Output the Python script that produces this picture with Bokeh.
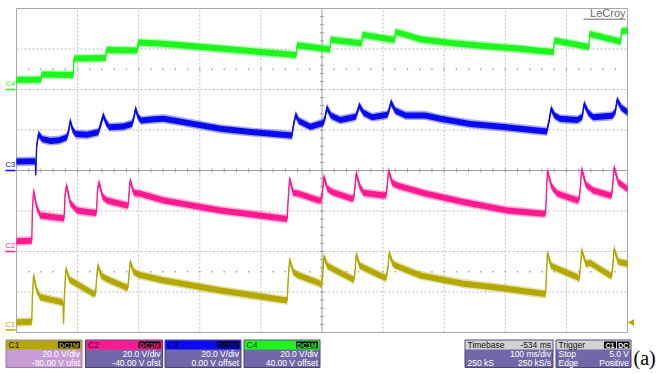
import numpy as np
from bokeh.plotting import figure
from bokeh.models import Range1d
from bokeh.core.properties import value
from bokeh.embed import file_html
from bokeh.resources import INLINE

# ---------------- acquisition data (time in ms, level in V) ----------------
t1 = [0, 25, 26, 28, 33, 39, 75, 76, 77, 78, 79.5, 81, 87, 99, 126, 129.5, 131, 133, 139, 148,
      180, 182.5, 184, 186, 192, 200, 241, 334, 443, 444.5, 447, 453, 459, 495, 499, 501, 503, 509, 517, 549,
      552, 554, 556, 562, 566, 601, 605, 608, 610, 616, 620, 661, 732, 803, 863, 866, 867.5, 869, 875, 879,
      918, 921, 923, 925, 932, 939, 972, 974, 976, 978, 985, 989, 1000]
v1 = [5.1, 5.3, 18, 28.2, 21, 17.4, 15.0, 14.5, 4.5, 15, 25, 31.5, 26, 23.9, 19.1, 19.5, 26, 33.1, 28, 26.4,
      22.2, 22.5, 28, 34.7, 30, 28.5, 25.7, 20.7, 15.8, 25, 35.9, 30, 28.5, 24.4, 23.5, 28, 37.5, 33, 31.5, 26.5,
      26, 30, 38.5, 33, 32.3, 27.3, 27, 32, 39.2, 34, 33.1, 28.2, 24.1, 21.6, 19.1, 19, 30, 39.2, 33, 32.3,
      27.3, 26.5, 32, 40.8, 34, 34.3, 28.2, 28, 33, 41.3, 35, 34.7, 33.9]

t2 = [0, 25, 26, 28, 33, 39, 76, 78, 79.5, 82, 88, 99, 129, 131, 132.5, 135, 141, 148, 181, 183,
      184.5, 186, 192, 203, 241, 334, 443, 444.5, 447, 453, 462, 495, 499, 501, 503, 509, 517, 549, 552, 554,
      556, 562, 568, 601, 605, 607, 609, 615, 623, 669, 732, 803, 863, 866, 867.5, 869, 876, 885, 918, 921,
      923, 925, 932, 944, 972, 974, 976, 978, 985, 1000]
v2 = [5.1, 5.3, 20, 30.1, 22, 17.8, 16.4, 16.6, 28, 32.6, 24, 20.3, 19.0, 19.5, 30, 34.2, 27, 25.2, 22.7, 23,
      30, 35.1, 29, 28.5, 25.2, 20.3, 16.1, 25, 35.9, 29, 28.5, 25.2, 25.5, 30, 37, 31, 29.3, 26.1, 26.5, 32,
      38.7, 32, 29.0, 27.7, 28, 33, 40, 34, 32.6, 28.6, 24.4, 20.3, 18.6, 19, 30, 39.7, 32, 28.6, 25.2, 26,
      32, 40.8, 33, 30.1, 27.7, 28, 33, 41.6, 34.2, 30.9]

t3 = [0, 31, 31.5, 33, 36, 42, 56, 70, 82, 85, 88, 92, 97, 115, 134, 138, 142, 147, 152, 175,
      189, 192, 195, 199, 204, 225, 241, 260, 334, 388, 451, 453, 457, 462, 481, 502, 505, 508, 515, 530,
      555, 558, 561, 568, 582, 607, 610, 613, 620, 637, 669, 694, 743, 803, 868, 872, 875, 881, 890, 918,
      926, 929, 936, 944, 975, 980, 983, 990, 1000]
v3 = [4.4, 4.6, -2.3, 12, 18.0, 15.5, 14.6, 15.0, 16.3, 19, 24.5, 20, 18.0, 17.6, 18.9, 23, 27.2, 23.5, 21.4, 21.7,
      23.0, 26, 30.5, 26.5, 24.7, 25.3, 25.6, 24.6, 20.6, 18.9, 17.3, 22, 27.5, 24.5, 21.6, 23.5, 26, 31, 27, 25,
      26.5, 29, 32.1, 28.5, 26.3, 27.5, 30, 33.7, 29.5, 27.2, 27.2, 25.5, 23.0, 21.3, 19.3, 25, 30.5, 27, 25.5, 25,
      26.5, 32.9, 28.5, 26.3, 27.0, 29, 34.9, 31.0, 28.8]

t4 = [0, 40, 41, 93, 94, 146, 147, 198, 199, 240, 334, 400, 458, 459, 513, 514, 565, 566, 619, 620,
      640, 661, 715, 771, 825, 879, 880, 937, 938, 989, 990, 1000]
v4 = [4.8, 4.8, 7.4, 7.2, 15.3, 15.5, 19.5, 19.2, 23.2, 22.6, 20.2, 18.5, 17.0, 21.8, 19.8, 24.6, 22.8, 27.0, 24.4, 28.4,
      26.8, 24.8, 22.9, 21.4, 20.1, 18.4, 24.2, 21.0, 27.4, 23.6, 28.8, 29.0]

# ---------------- channel settings ----------------
channel_names = ["C1", "C2", "C3", "C4"]
volts_per_div = [20.0, 20.0, 20.0, 20.0]
offsets_v = [-80.0, -40.0, 0.0, 40.0]
offset_labels = ["-80.00 V ofst", "-40.00 V ofst", "0.00 V offset", "40.00 V offset"]
scale_labels = ["20.0 V/div", "20.0 V/div", "20.0 V/div", "20.0 V/div"]
coupling_labels = ["DC1M", "DC1M", "DC1M", "DC1M"]
trigger_level_v = 5.0

timebase_delay = "-534 ms"
timebase_scale = "100 ms/div"
record_len = "250 kS"
sample_rate = "250 kS/s"
trigger_mode = "Stop"
trigger_slope = "Positive"
trigger_type = "Edge"

traces_t = [t1, t2, t3, t4]
traces_v = [v1, v2, v3, v4]

# ---------------- look ----------------
trace_colors = ["#B3A800", "#FF1A8F", "#0A0AF2", "#1EF51E"]
header_dark = ["#1e1b00", "#3a0020", "#00003a", "#003300"]
body_colors = ["#C99BD6", "#7267A9", "#7267A9", "#7267A9"]
panel_edge = "#4a437f"
GRID = "#bdbdbd"
AXIS = "#9e9e9e"
SANS = value("Liberation Sans")

W, H = 662, 374
GX0, GX1 = 16, 627        # graticule left/right on canvas
GY0, GY1 = 8, 332         # graticule top/bottom on canvas
NX, NY = 10, 8
SPAN = 1000.0             # ms across the screen (100 ms/div)

ms_px = SPAN / (GX1 - GX0)
div_px = NY / (GY1 - GY0)


def sx(px):
    return (px - GX0) * ms_px


def sy(py):
    return NY / 2 - (py - GY0) * div_px


p = figure(width=W, height=H, output_backend="svg", toolbar_location=None,
           x_range=Range1d(sx(0), sx(W)), y_range=Range1d(sy(H), sy(0)),
           x_axis_location=None, y_axis_location=None, min_border=0)
p.grid.visible = False
p.outline_line_color = None
p.background_fill_color = "white"
p.border_fill_color = "white"

# ---------------- graticule ----------------
gx = [SPAN / NX * k for k in range(1, NX) if k != NX // 2]
p.segment(x0=gx, x1=gx, y0=[-NY / 2] * len(gx), y1=[NY / 2] * len(gx),
          line_color=GRID, line_dash="2 2", line_width=1)
gy = [k - NY / 2 for k in range(1, NY) if k != NY // 2]
p.segment(x0=[0] * len(gy), x1=[SPAN] * len(gy), y0=gy, y1=gy,
          line_color=GRID, line_dash="2 2", line_width=1)

# centre cross with minor ticks
p.segment(x0=[SPAN / 2, 0], x1=[SPAN / 2, SPAN], y0=[-NY / 2, 0], y1=[NY / 2, 0],
          line_color=AXIS, line_width=1)
tx = np.arange(0, SPAN + 1, SPAN / NX / 5)
p.segment(x0=tx, x1=tx, y0=-2 * div_px, y1=2 * div_px, line_color=AXIS, line_width=1)
ty = np.arange(-NY / 2, NY / 2 + 0.01, 0.2)
p.segment(x0=SPAN / 2 - 2 * ms_px, x1=SPAN / 2 + 2 * ms_px, y0=ty, y1=ty, line_color=AXIS, line_width=1)

# dotted rows at +/- 2.5 div
dx = np.arange(SPAN / NX / 5, SPAN, SPAN / NX / 5)
for yy in (2.5, -2.5):
    p.scatter(dx, [yy] * len(dx), marker="square", size=1.4, fill_color=AXIS, line_color=None)

# frame
p.quad(left=0, right=SPAN, bottom=-NY / 2, top=NY / 2, fill_color=None, line_color="#a8a8a8", line_width=1)

# ---------------- traces: soft noise halo, dense core, centre line ----------------
halo = 4.6 * div_px
core = 3.0 * div_px
for t, v, off, vd, col in zip(traces_t, traces_v, offsets_v, volts_per_div, trace_colors):
    y = (np.asarray(v) + off) / vd
    p.varea(x=t, y1=y - halo, y2=y + halo, fill_color=col, fill_alpha=0.35)
    p.varea(x=t, y1=y - core, y2=y + core, fill_color=col)
    p.line(t, y, line_color=col, line_width=1.4)

# ---------------- ground markers on the left ----------------
for name, off, vd, col in zip(channel_names, offsets_v, volts_per_div, trace_colors):
    g = off / vd
    gp = GY0 + (NY / 2 - g) / div_px
    ymark = sy(min(gp, GY1 - 2.5))
    p.segment(x0=sx(5), x1=sx(15), y0=ymark, y1=ymark, line_color=col, line_width=1.5)
    p.text(x=[sx(5)], y=[ymark + 1.2 * div_px], text=[name], text_color=col, text_font=SANS,
           text_font_size="7.5px", text_baseline="bottom", text_align="left")

# trigger level marker on the right
p.scatter([sx(631.5)], [(trigger_level_v + offsets_v[0]) / volts_per_div[0]], marker="triangle",
          angle=np.pi / 2, size=7, fill_color=trace_colors[0], line_color=None)

# brand
p.text(x=[sx(625)], y=[sy(18)], text=["LeCroy"], text_color="#6b6b6b", text_font=SANS,
       text_font_size="11px", text_baseline="bottom", text_align="right")
p.segment(x0=sx(583), x1=sx(625), y0=sy(18.7), y1=sy(18.7), line_color="#6b6b6b", line_width=1)

# ---------------- descriptor boxes ----------------
PT, PH, PB = 339.5, 349.0, 367.0
ROW1, ROW2 = 353.5, 362.5


def box(x0, x1, head_col, body_col, edge):
    p.quad(left=sx(x0), right=sx(x1), top=sy(PT), bottom=sy(PB), fill_color=body_col,
           line_color=edge, line_width=1)
    p.quad(left=sx(x0 + 0.5), right=sx(x1 - 0.5), top=sy(PT + 0.5), bottom=sy(PH),
           fill_color=head_col, line_color=None)


def txt(x, y, s, col, align, size="8.5px", style="normal"):
    p.text(x=[sx(x)], y=[sy(y)], text=[s], text_color=col, text_font=SANS, text_font_size=size,
           text_align=align, text_baseline="middle", text_font_style=style)


chan_boxes = [(5.5, 81.5), (85.0, 162.0), (164.5, 240.5), (243.5, 319.5)]
for i, (x0, x1) in enumerate(chan_boxes):
    edge = "#9a7aa8" if i == 0 else panel_edge
    box(x0, x1, trace_colors[i], body_colors[i], edge)
    txt(x0 + 2.5, 344.3, channel_names[i], header_dark[i], "left")
    p.quad(left=sx(x1 - 24), right=sx(x1 - 2), top=sy(341), bottom=sy(347.8), fill_color="black",
           line_color=None)
    txt(x1 - 13, 344.5, coupling_labels[i], trace_colors[i], "center", size="7px", style="bold")
    txt(x1 - 2, ROW1, scale_labels[i], "white", "right")
    txt(x1 - 2, ROW2, offset_labels[i], "white", "right")

# timebase
x0, x1 = 464.5, 552.5
box(x0, x1, "#d2d2d2", body_colors[1], panel_edge)
txt(x0 + 2.5, 344.3, "Timebase", "#111111", "left")
txt(x1 - 2, 344.3, timebase_delay, "#111111", "right")
txt(x1 - 2, ROW1, timebase_scale, "white", "right")
txt(x0 + 2.5, ROW2, record_len, "white", "left")
txt(x1 - 2, ROW2, sample_rate, "white", "right")

# trigger
x0, x1 = 555.5, 630.5
box(x0, x1, "#d2d2d2", body_colors[1], panel_edge)
txt(x0 + 2.5, 344.3, "Trigger", "#111111", "left")
p.quad(left=sx(603.5), right=sx(615.5), top=sy(341), bottom=sy(347.8), fill_color="black", line_color=None)
p.quad(left=sx(616.5), right=sx(629.0), top=sy(341), bottom=sy(347.8), fill_color="black", line_color=None)
txt(609.5, 344.5, channel_names[0], "white", "center", size="7px", style="bold")
txt(622.8, 344.5, "DC", "white", "center", size="7px", style="bold")
txt(x0 + 2.5, ROW1, trigger_mode, "white", "left")
txt(x1 - 2, ROW1, f"{trigger_level_v:.1f} V", "white", "right")
txt(x0 + 2.5, ROW2, trigger_type, "white", "left")
txt(x1 - 2, ROW2, trigger_slope, "white", "right")

# panel tag
p.text(x=[sx(633)], y=[sy(357.5)], text=["(a)"], text_color="black", text_font=value("Liberation Serif"),
       text_font_size="20px", text_baseline="middle", text_align="left")

open("out.html", "w").write(file_html(p, INLINE))
